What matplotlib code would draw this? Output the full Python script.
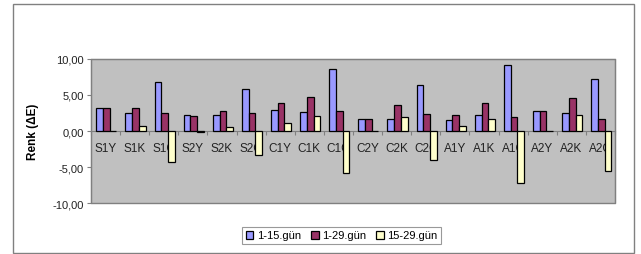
import matplotlib
matplotlib.use("Agg")
import matplotlib.pyplot as plt
import numpy as np
from matplotlib.patches import Rectangle

plt.rcParams['font.family'] = ['Liberation Sans', 'DejaVu Sans']

categories = ["S1Y", "S1K", "S1C", "S2Y", "S2K", "S2C", "C1Y", "C1K", "C1C",
              "C2Y", "C2K", "C2C", "A1Y", "A1K", "A1C", "A2Y", "A2K", "A2C"]
gun_1_15 = [3.16, 2.47, 6.74, 2.23, 2.19, 5.81, 2.93, 2.65, 8.65,
            1.63, 1.63, 6.37, 1.53, 2.23, 9.12, 2.74, 2.51, 7.16]
gun_1_29 = [3.26, 3.16, 2.56, 2.09, 2.74, 2.56, 3.90, 4.79, 2.79,
            1.63, 3.58, 2.33, 2.19, 3.90, 1.90, 2.74, 4.65, 1.63]
gun_15_29 = [0.05, 0.74, -4.28, -0.10, 0.60, -3.30, 1.07, 2.14, -5.90,
             0.03, 2.00, -4.05, 0.70, 1.67, -7.20, 0.03, 2.19, -5.49]
series_labels = ["1-15.gün", "1-29.gün", "15-29.gün"]
colors = ["#9999ff", "#993366", "#ffffcc"]
yticks = [-10, -5, 0, 5, 10]

fig = plt.figure(figsize=(6.41, 2.55), dpi=100)
ax = fig.add_axes([91 / 641, 51 / 255, 524 / 641, 144 / 255])
ax.set_facecolor("#c0c0c0")

x = np.arange(len(categories))
w = 0.23
for i, (vals, lbl, col) in enumerate(zip([gun_1_15, gun_1_29, gun_15_29], series_labels, colors)):
    ax.bar(x + (i - 1) * w + 0.03, vals, w, color=col, edgecolor="black", linewidth=0.9,
           label=lbl, zorder=3)

ax.set_xlim(-0.5, len(categories) - 0.5)
ax.set_ylim(-10, 10)
ax.set_yticks(yticks)
ax.set_yticklabels([f"{v:.2f}".replace(".", ",") for v in yticks], fontsize=8)

# category axis crosses at zero, ticks between categories
ax.spines["bottom"].set_position(("data", 0))
ax.spines["bottom"].set_color("#808080")
ax.set_xticks(np.arange(-0.5, len(categories), 1.0))
ax.set_xticklabels([])
ax.set_xticks(x, minor=True)
ax.set_xticklabels(categories, minor=True, fontsize=8.5, color="#222222")
ax.tick_params(axis="x", which="major", length=3, color="#808080", direction="out")
ax.tick_params(axis="x", which="minor", length=0, pad=8)
ax.tick_params(axis="y", length=3, color="#808080", pad=2, labelcolor="#222222")

for s in ["top", "right"]:
    ax.spines[s].set_color("#808080")
ax.spines["left"].set_color("#808080")
ax.add_patch(Rectangle((0, 0), 1, 1, transform=ax.transAxes, fill=False,
                       edgecolor="#808080", linewidth=1.0, clip_on=False, zorder=4))

ax.set_ylabel("Renk (ΔE)", fontsize=8.5, fontweight="bold", labelpad=10)

leg = fig.legend(loc="center", bbox_to_anchor=(341.5 / 641, 18.5 / 255), ncol=3,
                 fontsize=8, frameon=True, fancybox=False, handlelength=0.7,
                 handleheight=0.7, handletextpad=0.3, columnspacing=0.9,
                 borderpad=0.3, edgecolor="#808080")
leg.get_frame().set_linewidth(0.8)

# outer chart frame
fig.add_artist(Rectangle((12.5 / 641, 1 / 255), 621.5 / 641, 249 / 255,
                         transform=fig.transFigure, fill=False,
                         edgecolor="#808080", linewidth=1.0))

fig.savefig("out.png", dpi=100)
